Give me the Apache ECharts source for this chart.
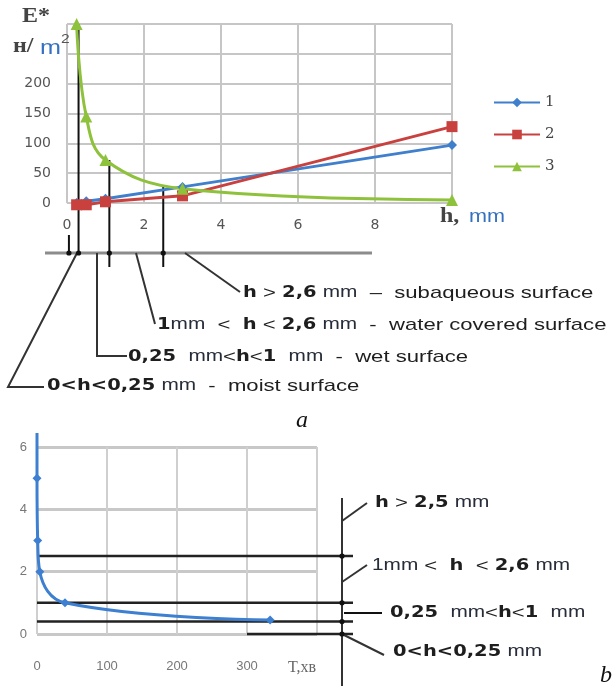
<!DOCTYPE html>
<html>
<head>
<meta charset="utf-8">
<script src="https://cdn.jsdelivr.net/npm/echarts@6/dist/echarts.min.js"></script>
<style>
html, body { margin: 0; padding: 0; background: #fff; }
#chart { width: 614px; height: 686px; }
</style>
</head>
<body>
<div id="chart"></div>
<script>
// (a) E* against water layer thickness h
const hValues = [0.25, 0.5, 1, 3, 10]
const series1 = [0, 3, 7, 27, 97]
const series2 = [-3, -3, 2, 12, 128]
const series3 = [300, 145, 72, 24, 5]
const seriesNames = ['1', '2', '3']
const yLabelsA = [0, 50, 100, 150, 200]
const xLabelsA = [0, 2, 4, 6, 8]
// surface class boundaries marked on (a): h and the E* where each arrow starts
const boundH = [0.05, 0.3, 1.1, 2.5]
const boundTop = [null, 300, 72, 27]

// (b) layer thickness h against time T
const timeB = [0, 0, 1, 4, 40, 333]
const heightB = [6.45, 5, 3, 2, 1, 0.45]
const xLabelsB = [0, 100, 200, 300]
const yLabelsB = [0, 2, 4, 6]
const levelsB = [2.5, 1, 0.4]

const blue = '#3f7fcc'
const red = '#c9413e'
const green = '#8fc23c'
const grid = '#c6c6c6'
const ink = '#1e1e1e'

const pairs = (xs, ys) => xs.map((x, i) => [x, ys[i]])

const chart = echarts.init(document.getElementById('chart'))

chart.setOption({
  animation: false,
  grid: [
    { left: 67, top: 24, width: 385, height: 179 },
    { left: 37, top: 447, width: 280, height: 187 }
  ],
  legend: {
    data: seriesNames,
    orient: 'vertical',
    left: 488,
    top: 90,
    itemWidth: 46,
    itemHeight: 12,
    itemGap: 17,
    textStyle: { color: '#444', fontSize: 15, fontFamily: 'DejaVu Serif' }
  },
  xAxis: [
    {
      gridIndex: 0,
      type: 'value',
      min: 0,
      max: 10,
      interval: 2,
      axisLine: { show: false },
      axisTick: { show: false },
      splitLine: { lineStyle: { color: grid, width: 2 } },
      axisLabel: {
        margin: 15,
        color: '#555',
        fontSize: 14,
        fontFamily: 'DejaVu Sans',
        formatter: v => xLabelsA.includes(v) ? String(v) : ''
      }
    },
    {
      gridIndex: 1,
      type: 'value',
      min: 0,
      max: 400,
      interval: 100,
      axisLine: { show: false },
      axisTick: { show: false },
      splitLine: { lineStyle: { color: '#cfcfcf', width: 2 } },
      axisLabel: {
        margin: 26,
        color: '#777',
        fontSize: 13,
        fontFamily: 'Liberation Sans Narrow, Liberation Sans',
        formatter: v => xLabelsB.includes(v) ? String(v) : '{t|T,хв}',
        rich: { t: { fontSize: 16, fontFamily: 'Liberation Serif', color: '#666', padding: [0, 30, 0, 0] } }
      }
    }
  ],
  yAxis: [
    {
      gridIndex: 0,
      type: 'value',
      min: 0,
      max: 300,
      interval: 50,
      axisLine: { show: false },
      axisTick: { show: false },
      splitLine: { lineStyle: { color: grid, width: 2 } },
      axisLabel: {
        margin: 16,
        color: '#555',
        fontSize: 14,
        fontFamily: 'DejaVu Sans',
        formatter: v => yLabelsA.includes(v) ? String(v) : ''
      }
    },
    {
      gridIndex: 1,
      type: 'value',
      min: 0,
      max: 6,
      interval: 2,
      axisLine: { show: false },
      axisTick: { show: false },
      splitLine: { lineStyle: { color: '#c8c8c8', width: 3 } },
      axisLabel: {
        margin: 10,
        color: '#777',
        fontSize: 13,
        fontFamily: 'Liberation Sans Narrow, Liberation Sans',
        formatter: v => yLabelsB.includes(v) ? String(v) : ''
      }
    }
  ],
  series: [
    {
      name: '1', type: 'line', xAxisIndex: 0, yAxisIndex: 0, clip: false,
      data: pairs(hValues, series1),
      color: blue, symbol: 'diamond', symbolSize: 10,
      lineStyle: { width: 3 }
    },
    {
      name: '2', type: 'line', xAxisIndex: 0, yAxisIndex: 0, clip: false,
      data: pairs(hValues, series2),
      color: red, symbol: 'rect', symbolSize: 11,
      lineStyle: { width: 3 }
    },
    {
      name: '3', type: 'line', xAxisIndex: 0, yAxisIndex: 0, clip: false,
      data: pairs(hValues, series3),
      color: green, symbol: 'triangle', symbolSize: 12,
      smooth: 0.4,
      lineStyle: { width: 3 }
    },
    {
      name: 'h(T)', type: 'line', xAxisIndex: 1, yAxisIndex: 1, clip: false, z: 5,
      data: pairs(timeB, heightB).map((p, i) => i === 0 ? { value: p, symbol: 'none' } : p),
      color: '#3d7fd0', symbol: 'diamond', symbolSize: 9,
      smooth: 0.4,
      lineStyle: { width: 3 }
    }
  ]
})

const pa = (x, y) => chart.convertToPixel({ gridIndex: 0 }, [x, y])
const pb = (x, y) => chart.convertToPixel({ gridIndex: 1 }, [x, y])

const line = (points, color, width) => ({
  type: 'polyline', z: 3,
  shape: { points },
  style: { stroke: color, lineWidth: width, fill: null }
})
const dot = (x, y) => ({
  type: 'circle', z: 4,
  shape: { cx: x, cy: y, r: 2.6 },
  style: { fill: '#111' }
})
// the source lettering is stretched sideways, hence scaleX
const stretch = 1.3
const bold = { fontSize: 15, fontWeight: 'bold', fontFamily: 'DejaVu Sans', fill: ink }
const reg = { fontSize: 17, fontFamily: 'Liberation Sans', fill: ink }
const mm = { fontSize: 16, fontFamily: 'Liberation Sans', fill: '#262c38' }
const label = (x, y, text) => ({
  type: 'text', z: 5, x, y, scaleX: stretch,
  style: {
    text, rich: { b: bold, r: reg, m: mm },
    fontSize: 17, fontFamily: 'Liberation Sans', verticalAlign: 'middle', fill: ink
  }
})
const title = (x, y, text, size, family, color, weight) => ({
  type: 'text', z: 5, x, y, scaleX: 1.2,
  style: { text, fontSize: size, fontFamily: family, fontWeight: weight || 'normal', fill: color, verticalAlign: 'middle' }
})

const els = []

// (a) axis titles
els.push(title(22, 17, 'E*', 20, 'Liberation Serif', '#444', 'bold'))
els.push(title(13, 47, 'н/', 20, 'Liberation Serif', '#444', 'bold'))
els.push(title(40, 48, 'm', 21, 'Liberation Sans', '#3472c0'))
els.push(title(61, 39, '2', 13, 'Liberation Sans', '#555'))
els.push(title(440, 217, 'h,', 20, 'Liberation Serif', '#444', 'bold'))
els.push(title(469, 217, 'mm', 18, 'Liberation Sans', '#3472c0'))

// (a) boundary arrows down to the h rule
const [x0a, y0a] = pa(0, 0)
const ruleY = y0a + 50
els.push(line([[x0a - 22, ruleY], [pa(8, 0)[0] - 3, ruleY]], '#8c8c8c', 3))
boundH.forEach((h, i) => {
  const x = pa(h, 0)[0]
  const top = boundTop[i] === null ? ruleY - 18 : pa(h, boundTop[i])[1]
  const bottom = i < 2 ? ruleY : ruleY + 14
  els.push(line([[x, top], [x, bottom]], '#111', 2))
  els.push(dot(x, ruleY))
})

// (a) leaders and class descriptions
els.push(line([[77, ruleY], [8, 387], [44, 387]], '#333', 2))
els.push(line([[97, ruleY], [97, 356], [127, 356]], '#333', 2))
els.push(line([[136, ruleY], [155, 324]], '#333', 2))
els.push(line([[185, ruleY], [240, 292]], '#333', 2))
els.push(label(243, 293, '{b|h} {r|>} {b|2,6} {m|mm}  {r|–}  {r|subaqueous surface}'))
els.push(label(157, 325, '{b|1}{m|mm}  {r|<}  {b|h} {r|<} {b|2,6} {m|mm}  {r|-}  {r|water covered surface}'))
els.push(label(128, 357, '{b|0,25}  {m|mm}{r|<}{b|h}{r|<}{b|1}  {m|mm}  {r|-}  {r|wet surface}'))
els.push(label(47, 386, '{b|0<h<0,25} {m|mm}  {r|-}  {r|moist surface}'))
els.push({ type: 'text', x: 296, y: 421, style: { text: 'a', fontSize: 24, fontStyle: 'italic', fontFamily: 'Liberation Serif', fill: '#111', verticalAlign: 'middle' } })

// (b) class levels and their bracket
const xEndB = pb(0, 0)[0] + 316
const xBar = pb(0, 0)[0] + 305
levelsB.forEach(v => {
  const y = pb(0, v)[1]
  els.push(line([[pb(0, v)[0], y], [xEndB, y]], '#222', 2.5))
  els.push(dot(xBar, y))
})
const yZeroB = pb(0, 0)[1]
els.push(line([[pb(300, 0)[0], yZeroB], [xEndB, yZeroB]], '#222', 2.5))
els.push(dot(xBar, yZeroB))
els.push(line([[xBar, 498], [xBar, 686]], '#333', 2))
els.push(line([[xBar, 521], [367, 503]], '#333', 2))
els.push(line([[xBar, 582], [367, 565]], '#333', 2))
els.push(line([[xBar + 2, 613], [382, 613]], '#111', 2))
els.push(line([[xBar, yZeroB], [384, 655]], '#333', 2))
els.push(label(375, 503, '{b|h} {r|>} {b|2,5} {m|mm}'))
els.push(label(372, 566, '{m|1mm} {r|<}  {b|h}  {r|<} {b|2,6} {m|mm}'))
els.push(label(390, 613, '{b|0,25}  {m|mm}{r|<}{b|h}{r|<}{b|1}  {m|mm}'))
els.push(label(393, 652, '{b|0<h<0,25} {m|mm}'))
els.push({ type: 'text', x: 600, y: 676, style: { text: 'b', fontSize: 24, fontStyle: 'italic', fontFamily: 'Liberation Serif', fill: '#111', verticalAlign: 'middle' } })

chart.setOption({ graphic: els })
</script>
</body>
</html>
